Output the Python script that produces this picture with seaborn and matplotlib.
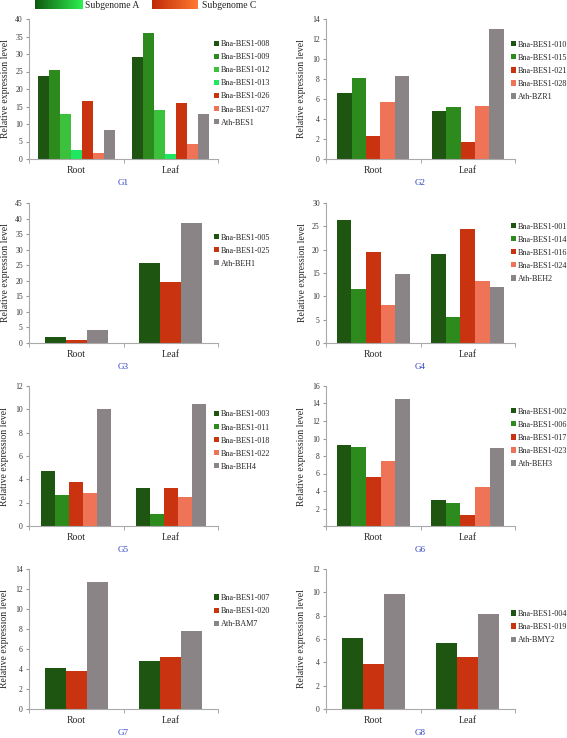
import numpy as np
import pandas as pd
import seaborn as sns
import matplotlib.pyplot as plt
from matplotlib.colors import LinearSegmentedColormap

TISSUES = ["Root", "Leaf"]

G1_GENES = ["Bna-BES1-008", "Bna-BES1-009", "Bna-BES1-012", "Bna-BES1-013",
            "Bna-BES1-026", "Bna-BES1-027", "Ath-BES1"]
G1_ROOT = [23.7, 25.3, 12.8, 2.5, 16.5, 1.8, 8.3]
G1_LEAF = [29.2, 35.9, 14.1, 1.3, 16.1, 4.2, 12.9]

G2_GENES = ["Bna-BES1-010", "Bna-BES1-015", "Bna-BES1-021", "Bna-BES1-028", "Ath-BZR1"]
G2_ROOT = [6.6, 8.1, 2.3, 5.7, 8.35]
G2_LEAF = [4.8, 5.2, 1.7, 5.3, 13.0]

G3_GENES = ["Bna-BES1-005", "Bna-BES1-025", "Ath-BEH1"]
G3_ROOT = [1.8, 1.0, 4.3]
G3_LEAF = [25.8, 19.7, 38.6]

G4_GENES = ["Bna-BES1-001", "Bna-BES1-014", "Bna-BES1-016", "Bna-BES1-024", "Ath-BEH2"]
G4_ROOT = [26.4, 11.6, 19.6, 8.1, 14.7]
G4_LEAF = [19.0, 5.6, 24.4, 13.2, 12.1]

G5_GENES = ["Bna-BES1-003", "Bna-BES1-011", "Bna-BES1-018", "Bna-BES1-022", "Bna-BEH4"]
G5_ROOT = [4.74, 2.67, 3.73, 2.87, 9.99]
G5_LEAF = [3.24, 1.06, 3.27, 2.5, 10.48]

G6_GENES = ["Bna-BES1-002", "Bna-BES1-006", "Bna-BES1-017", "Bna-BES1-023", "Ath-BEH3"]
G6_ROOT = [9.26, 9.03, 5.55, 7.43, 14.5]
G6_LEAF = [2.99, 2.64, 1.3, 4.48, 8.96]

G7_GENES = ["Bna-BES1-007", "Bna-BES1-020", "Ath-BAM7"]
G7_ROOT = [4.15, 3.85, 12.73]
G7_LEAF = [4.82, 5.22, 7.77]

G8_GENES = ["Bna-BES1-004", "Bna-BES1-019", "Ath-BMY2"]
G8_ROOT = [6.06, 3.85, 9.82]
G8_LEAF = [5.68, 4.42, 8.15]

# colours
DK = "#1d5511"
MG = "#2d8a1c"
LG = "#3cc13c"
BG = "#1fe860"
RD = "#c9330f"
SA = "#ef7357"
GR = "#8b8486"
BLUE = "#2b3fbf"

sns.set_style("white")
plt.rcParams["font.family"] = ["Liberation Serif", "DejaVu Serif"]

fig = plt.figure(figsize=(5.67, 7.38), dpi=100)

LEFT_X = 29 / 567
RIGHT_X = 326 / 567
AX_W = 189 / 567
AX_H = 140 / 738
ROW_B = [1 - 159 / 738, 1 - 343 / 738, 1 - 526 / 738, 1 - 709 / 738]

panels = [
    ("G1", G1_GENES, G1_ROOT, G1_LEAF, [DK, MG, LG, BG, RD, SA, GR], 40, 5, 0.82, 0.54, LEFT_X, 0),
    ("G2", G2_GENES, G2_ROOT, G2_LEAF, [DK, MG, RD, SA, GR], 14, 2, 0.76, 0.63, RIGHT_X, 0),
    ("G3", G3_GENES, G3_ROOT, G3_LEAF, [DK, RD, GR], 45, 5, 0.67, 0.66, LEFT_X, 1),
    ("G4", G4_GENES, G4_ROOT, G4_LEAF, [DK, MG, RD, SA, GR], 30, 5, 0.77, 0.645, RIGHT_X, 1),
    ("G5", G5_GENES, G5_ROOT, G5_LEAF, [DK, MG, RD, SA, GR], 12, 2, 0.74, 0.61, LEFT_X, 2),
    ("G6", G6_GENES, G6_ROOT, G6_LEAF, [DK, MG, RD, SA, GR], 16, 2, 0.77, 0.63, RIGHT_X, 2),
    ("G7", G7_GENES, G7_ROOT, G7_LEAF, [DK, RD, GR], 14, 2, 0.67, 0.70, LEFT_X, 3),
    ("G8", G8_GENES, G8_ROOT, G8_LEAF, [DK, RD, GR], 12, 2, 0.67, 0.586, RIGHT_X, 3),
]

for name, genes, root, leaf, cols, ymax, ystep, width, leg_y, x0, row in panels:
    ax = fig.add_axes([x0, ROW_B[row], AX_W, AX_H])
    rows = [(t, g, v) for t, vals in zip(TISSUES, [root, leaf]) for g, v in zip(genes, vals)]
    df = pd.DataFrame(rows, columns=["tissue", "gene", "value"])
    sns.barplot(data=df, x="tissue", y="value", hue="gene", order=TISSUES, hue_order=genes,
                palette=cols, width=width, gap=0, saturation=1, errorbar=None,
                linewidth=0, ax=ax)
    handles, labels = ax.get_legend_handles_labels()
    ax.get_legend().remove()
    ax.legend(handles, labels, loc="center left", bbox_to_anchor=(0.98, leg_y),
              frameon=False, fontsize=5.9, handlelength=0.6, handleheight=0.6,
              handletextpad=0.2, labelspacing=0.62, borderaxespad=0, borderpad=0)

    ax.set_xlim(-0.5, 1.5)
    ax.set_ylim(0, ymax)
    yt = np.arange(0, ymax + 0.01, ystep)
    ax.set_yticks(yt)
    ylabels = [f"{int(v)}" for v in yt]
    if name == "G6":
        ylabels[0] = ""
    ax.set_yticklabels(ylabels)
    ax.set_xticks([0, 1])
    ax.set_xticks([-0.5, 0.5, 1.5], minor=True)
    ax.tick_params(axis="x", which="major", length=0, labelsize=7, pad=5)
    ax.tick_params(axis="x", which="minor", length=3, color="#999999", direction="out", bottom=True)
    ax.tick_params(axis="y", length=2.5, color="#999999", direction="out", left=True,
                   labelsize=5.5, pad=2, labelcolor="#333333")
    ax.set_xlabel("")
    ax.set_ylabel("Relative expression level", fontsize=7, labelpad=4)
    for s in ["top", "right"]:
        ax.spines[s].set_visible(False)
    for s in ["left", "bottom"]:
        ax.spines[s].set_color("#aaaaaa")
        ax.spines[s].set_linewidth(0.8)
    ax.text(0.5, -0.17, name, transform=ax.transAxes, ha="center", va="center",
            fontsize=6.5, color=BLUE)

# subgenome key at the top
def gradient_box(rect, c0, c1):
    bax = fig.add_axes(rect)
    cmap = LinearSegmentedColormap.from_list("g", [c0, c1])
    bax.imshow(np.linspace(0, 1, 100).reshape(1, -1), aspect="auto", cmap=cmap)
    bax.set_axis_off()

gradient_box([35 / 567, 1 - 9 / 738, 48 / 567, 9 / 738], "#0f5a0f", "#2ef050")
gradient_box([152 / 567, 1 - 9 / 738, 46 / 567, 9 / 738], "#c02a08", "#ff7a30")
fig.text(85 / 567, 1 - 5 / 738, "Subgenome A", fontsize=6.9, va="center", ha="left")
fig.text(202 / 567, 1 - 5 / 738, "Subgenome C", fontsize=6.9, va="center", ha="left")

fig.savefig("out.png", dpi=100)
